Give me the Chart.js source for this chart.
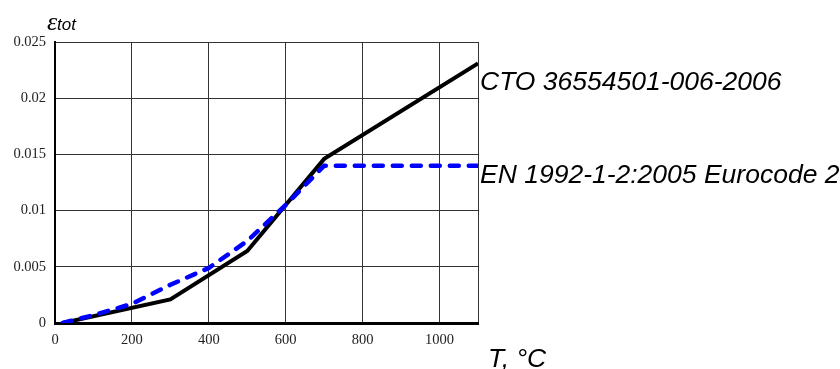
<!DOCTYPE html>
<html>
<head>
<meta charset="utf-8">
<script src="https://cdn.jsdelivr.net/npm/chart.js@4.4.0/dist/chart.umd.min.js"></script>
<style>
  body { margin: 0; background: #fff; }
  #box { width: 840px; height: 369px; position: relative; }
</style>
</head>
<body>
<div id="box"><canvas id="grafico"></canvas></div>
<script>
// temperature, deg C
const tempCTO = [20, 300, 500, 700, 1100];
const strainCTO = [0, 0.0021, 0.0064, 0.0146, 0.0231];

const tempEN = [20, 100, 200, 300, 400, 500, 600, 700, 800, 900, 1000, 1100];
const strainEN = [0, 0.0007, 0.0017, 0.0034, 0.0049, 0.0073, 0.0105, 0.0140, 0.0140, 0.0140, 0.0140, 0.0140];

const xTicks = [0, 200, 400, 600, 800, 1000];
const yTicks = [0, 0.005, 0.01, 0.015, 0.02, 0.025];
const xMax = 1100;

const labelCTO = 'CTO 36554501-006-2006';
const labelEN = 'EN 1992-1-2:2005 Eurocode 2';

function punti(xs, ys) {
    return xs.map((x, i) => ({ x: x, y: ys[i] }));
}

// testi fuori dal grafico
const testi = {
    id: 'testi',
    afterDraw(chart) {
        const c = chart.ctx;
        const a = chart.chartArea;
        const y = chart.scales.y;
        c.save();
        c.fillStyle = '#000';
        c.textAlign = 'left';
        c.textBaseline = 'alphabetic';
        c.font = 'italic 26.5px "Liberation Sans", Arial, sans-serif';
        c.fillText(labelCTO, a.right + 2, 90);
        c.fillText(labelEN, a.right + 2, y.getPixelForValue(0.014) + 17);
        c.fillText('T, \u00B0C', 488, 367);
        // epsilon piu grande
        c.font = 'italic 26px "Liberation Serif", serif';
        c.fillText('\u03B5', 47, 30);
        c.font = 'italic 17px "Liberation Sans", Arial, sans-serif';
        c.fillText('tot', 57, 30);
        c.restore();
    }
};

const ctx = document.getElementById('grafico').getContext('2d');
const grafico = new Chart(ctx, {
    type: 'line',
    data: {
        datasets: [
            {
                label: labelEN,
                data: punti(tempEN, strainEN),
                borderColor: '#0000ff',
                borderWidth: 4.5,
                borderDash: [9, 10],
                borderCapStyle: 'round',
                pointRadius: 0,
                fill: false,
                tension: 0,
                order: 0
            },
            {
                label: labelCTO,
                data: punti(tempCTO, strainCTO),
                borderColor: '#000',
                borderWidth: 4,
                pointRadius: 0,
                fill: false,
                tension: 0,
                order: 1
            }
        ]
    },
    options: {
        responsive: true,
        maintainAspectRatio: false,
        animation: false,
        layout: { padding: { top: 42, right: 362, left: 0, bottom: 0 } },
        scales: {
            x: {
                type: 'linear',
                min: 0,
                max: xMax,
                afterBuildTicks: s => { s.ticks = xTicks.concat([xMax]).map(v => ({ value: v })); },
                afterFit: s => { s.height = 46; },
                grid: { color: '#333', lineWidth: 1, drawTicks: false },
                border: { color: '#000', width: 3 },
                ticks: {
                    padding: 8,
                    color: '#222',
                    maxRotation: 0,
                    autoSkip: false,
                    font: { family: '"Liberation Serif", "Times New Roman", serif', size: 14.5 },
                    callback: v => xTicks.includes(v) ? String(v) : ''
                }
            },
            y: {
                min: 0,
                max: 0.025,
                afterBuildTicks: s => { s.ticks = yTicks.map(v => ({ value: v })); },
                afterFit: s => { s.width = 55; },
                grid: { color: '#333', lineWidth: 1, drawTicks: false },
                border: { color: '#000', width: 2 },
                ticks: {
                    padding: 9,
                    color: '#222',
                    autoSkip: false,
                    font: { family: '"Liberation Serif", "Times New Roman", serif', size: 14.5 },
                    callback: v => String(v)
                }
            }
        },
        plugins: {
            legend: { display: false },
            tooltip: { enabled: false }
        }
    },
    plugins: [testi]
});
</script>
</body>
</html>
